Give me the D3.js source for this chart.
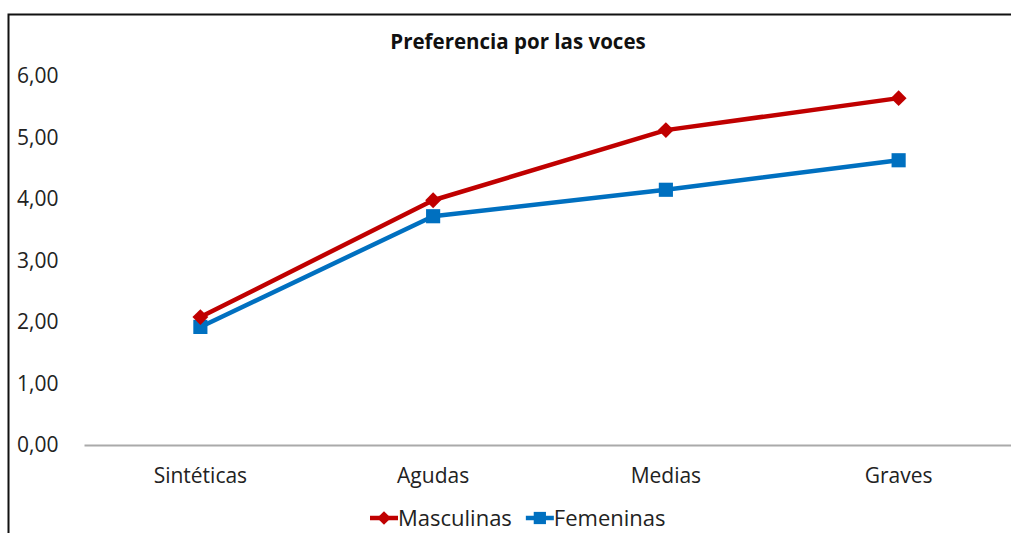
<!DOCTYPE html>
<html>
<head>
<meta charset="utf-8">
<script src="https://cdn.jsdelivr.net/npm/d3@7"></script>
<style>
  html, body { margin: 0; padding: 0; background: #fff; }
  svg { display: block; }
  text { font-family: "Open Sans", sans-serif; fill: #222; }
</style>
</head>
<body>
<svg id="chart" width="1011" height="533"></svg>
<script>
const categories = ['Sintéticas', 'Agudas', 'Medias', 'Graves'];
const masculinas = [2.08, 3.98, 5.12, 5.64];
const femeninas = [1.92, 3.72, 4.15, 4.63];
const yTicks = [0, 1, 2, 3, 4, 5, 6];

const series = [
  { name: 'Masculinas', values: masculinas, color: '#C00000', symbol: d3.symbolDiamond2, size: 160, legendSize: 120 },
  { name: 'Femeninas', values: femeninas, color: '#0070C0', symbol: d3.symbolSquare, size: 200, legendSize: 150 }
];

const width = 1011, height = 533;
const margin = { top: 76, right: -4, bottom: 88, left: 84 };

const svg = d3.select('#chart');

// frame (only left & top visible, the rest is cropped out)
svg.append('path')
  .attr('d', `M8.5,${height} V14.5 H${width}`)
  .attr('fill', 'none')
  .attr('stroke', '#111')
  .attr('stroke-width', 2);

const x = d3.scaleBand()
  .domain(categories)
  .range([margin.left, width - margin.right]);

const y = d3.scaleLinear()
  .domain([0, 6])
  .range([height - margin.bottom, margin.top]);

// title
svg.append('text')
  .attr('x', 518)
  .attr('y', 49)
  .attr('text-anchor', 'middle')
  .style('font-weight', 'bold')
  .style('font-size', '20.5px')
  .style('fill', '#111')
  .text('Preferencia por las voces');

// y axis (labels only)
const fmt = d => d3.format('.2f')(d).replace('.', ',');
const yAxis = svg.append('g')
  .attr('transform', `translate(${margin.left - 12},0)`)
  .call(d3.axisLeft(y).tickValues(yTicks).tickFormat(fmt).tickSize(0).tickPadding(0));
yAxis.select('.domain').remove();
yAxis.selectAll('text')
  .attr('x', -55)
  .attr('text-anchor', 'start')
  .style('font-size', '21px')
  .style('font-family', '"Open Sans", sans-serif')
  .style('fill', '#222');

// x axis
const xAxis = svg.append('g')
  .attr('transform', `translate(0,${y(0)})`)
  .call(d3.axisBottom(x).tickSize(0).tickPadding(23));
xAxis.select('.domain')
  .attr('stroke', '#aaa')
  .attr('stroke-width', 2);
xAxis.selectAll('text')
  .style('font-size', '21px')
  .style('font-family', '"Open Sans", sans-serif')
  .style('fill', '#222');

const cx = c => x(c) + x.bandwidth() / 2;
const line = d3.line()
  .x((d, i) => cx(categories[i]))
  .y(d => y(d));

// draw blue first so red sits on top like the reference
series.slice().reverse().forEach(s => {
  const g = svg.append('g');
  g.append('path')
    .datum(s.values)
    .attr('d', line)
    .attr('fill', 'none')
    .attr('stroke', s.color)
    .attr('stroke-width', 4.5)
    .attr('stroke-linejoin', 'round');
  g.selectAll('path.marker')
    .data(s.values)
    .join('path')
    .attr('class', 'marker')
    .attr('transform', (d, i) => `translate(${cx(categories[i])},${y(d)})`)
    .attr('d', d3.symbol().type(s.symbol).size(s.size))
    .attr('fill', s.color);
});

// legend
const legend = svg.append('g').attr('transform', 'translate(370,518)');
let lx = 0;
series.forEach(s => {
  const item = legend.append('g').attr('transform', `translate(${lx},0)`);
  item.append('line')
    .attr('x1', 0).attr('x2', 28)
    .attr('stroke', s.color)
    .attr('stroke-width', 4.5);
  item.append('path')
    .attr('transform', 'translate(14,0)')
    .attr('d', d3.symbol().type(s.symbol).size(s.legendSize))
    .attr('fill', s.color);
  const t = item.append('text')
    .attr('x', 28)
    .attr('dy', '0.35em')
    .style('font-size', '22px')
    .text(s.name);
  lx += 28 + t.node().getComputedTextLength() + 14;
});
</script>
</body>
</html>
